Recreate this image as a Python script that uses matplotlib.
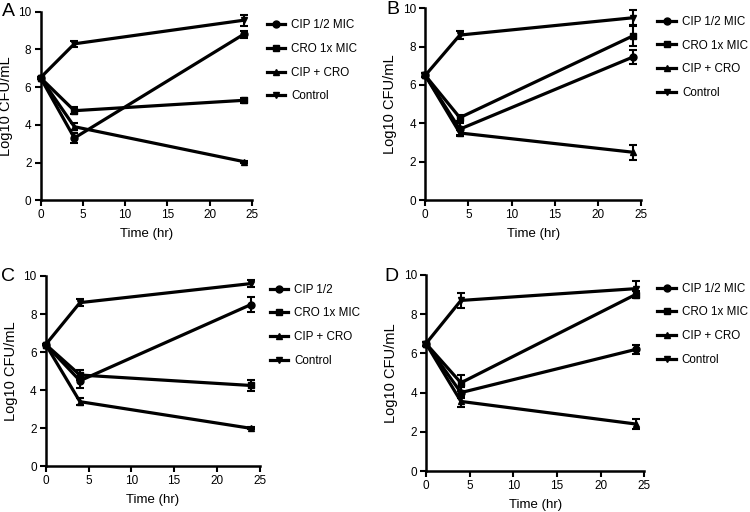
import numpy as np
import matplotlib
matplotlib.use("Agg")
import matplotlib.pyplot as plt

plt.rcParams['font.family'] = ['Liberation Sans', 'DejaVu Sans']

times = [0, 4, 24]
panel_letters = ["A", "B", "C", "D"]

# series values per panel: CIP, CRO, CIP+CRO, Control
cip_mean = [[6.5, 3.3, 8.8], [6.5, 3.7, 7.45], [6.4, 4.5, 8.5], [6.5, 4.0, 6.2]]
cip_err = [[0.05, 0.25, 0.2], [0.1, 0.3, 0.35], [0.05, 0.4, 0.4], [0.1, 0.3, 0.25]]
cro_mean = [[6.5, 4.75, 5.3], [6.5, 4.3, 8.55], [6.4, 4.8, 4.25], [6.5, 4.5, 9.0]]
cro_err = [[0.05, 0.2, 0.15], [0.1, 0.15, 0.5], [0.05, 0.25, 0.3], [0.1, 0.4, 0.2]]
combo_mean = [[6.5, 3.9, 2.05], [6.5, 3.5, 2.5], [6.4, 3.4, 2.0], [6.5, 3.55, 2.4]]
combo_err = [[0.05, 0.2, 0.05], [0.1, 0.15, 0.4], [0.05, 0.2, 0.05], [0.1, 0.3, 0.25]]
ctrl_mean = [[6.5, 8.3, 9.55], [6.5, 8.6, 9.5], [6.4, 8.6, 9.6], [6.5, 8.7, 9.3]]
ctrl_err = [[0.05, 0.15, 0.3], [0.1, 0.2, 0.4], [0.05, 0.2, 0.2], [0.1, 0.4, 0.4]]

cip_labels = ["CIP 1/2 MIC", "CIP 1/2 MIC", "CIP 1/2", "CIP 1/2 MIC"]
other_labels = ["CRO 1x MIC", "CIP + CRO", "Control"]

# axes rectangles in figure fraction
rects = [
    [0.054, 0.609, 0.282, 0.368],
    [0.567, 0.609, 0.288, 0.375],
    [0.061, 0.089, 0.285, 0.372],
    [0.568, 0.080, 0.291, 0.383],
]
legend_x = [1.07, 1.075, 1.047, 1.06]
letter_pos = [(0.003, 0.995), (0.515, 0.998), (0.002, 0.477), (0.513, 0.477)]

fig = plt.figure(figsize=(7.5, 5.12), dpi=100)

for i in range(4):
    ax = fig.add_axes(rects[i])
    series = [
        (cip_mean[i], cip_err[i], "o", cip_labels[i]),
        (cro_mean[i], cro_err[i], "s", other_labels[0]),
        (combo_mean[i], combo_err[i], "^", other_labels[1]),
        (ctrl_mean[i], ctrl_err[i], "v", other_labels[2]),
    ]
    for mean, err, mk, lab in series:
        eb = ax.errorbar(times, mean, yerr=err, color="black", lw=2.3, marker=mk,
                         markersize=5, capsize=3, elinewidth=1.5, capthick=1.5,
                         label=lab, clip_on=False)
        for art in eb.lines[1] + eb.lines[2]:
            art.set_clip_on(False)

    ax.set_xlim(0, 25)
    ax.set_ylim(0, 10)
    ax.set_xticks([0, 5, 10, 15, 20, 25])
    ax.set_yticks([0, 2, 4, 6, 8, 10])
    for side in ["top", "right"]:
        ax.spines[side].set_visible(False)
    for side in ["left", "bottom"]:
        ax.spines[side].set_linewidth(1.8)
    ax.tick_params(width=1.5, length=4, labelsize=8.5, pad=2.5)
    ax.set_xlabel("Time (hr)", fontsize=9.5, labelpad=5)
    ax.set_ylabel("Log10 CFU/mL", fontsize=10.5, labelpad=4)

    handles, labels = ax.get_legend_handles_labels()
    handles = [h[0] for h in handles]
    ax.legend(handles, labels, loc="upper left", bbox_to_anchor=(legend_x[i], 0.96),
              frameon=False, fontsize=8.4, handlelength=1.6, handletextpad=0.5,
              labelspacing=1.0, borderaxespad=0, borderpad=0)

    fig.text(letter_pos[i][0], letter_pos[i][1], panel_letters[i], fontsize=14,
             va="top", ha="left")

fig.savefig("out.png", dpi=100)
